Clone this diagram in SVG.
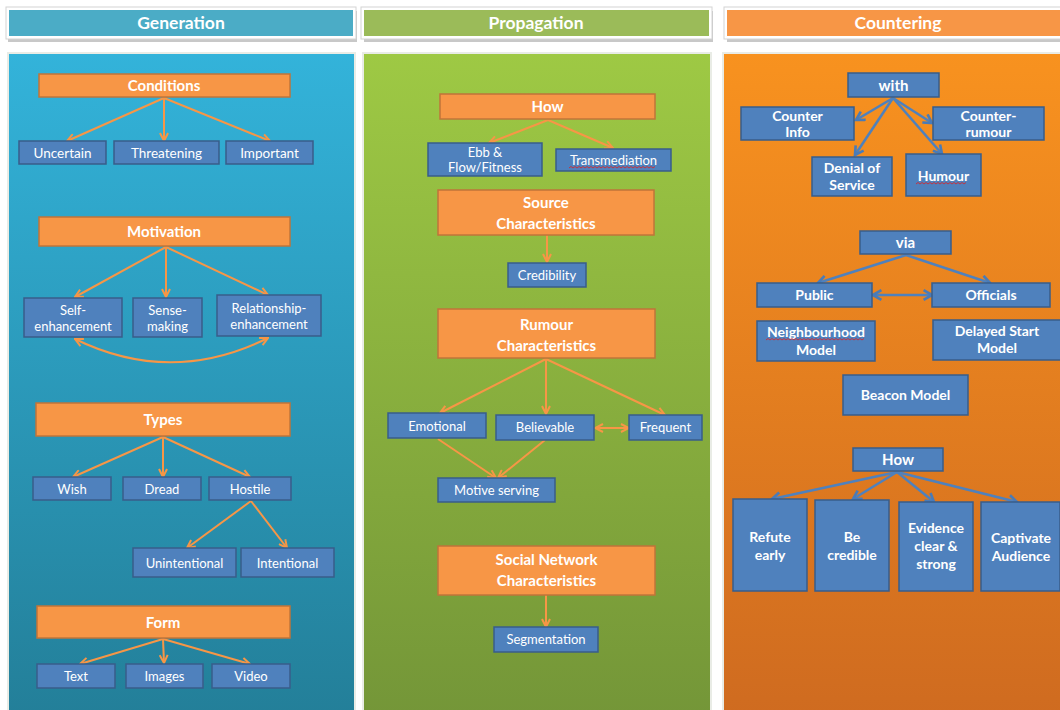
<svg xmlns="http://www.w3.org/2000/svg" width="1060" height="710" viewBox="0 0 1060 710">
<defs>
<linearGradient id="gBlue" x1="0" y1="0" x2="0" y2="1"><stop offset="0" stop-color="#33B3DA"/><stop offset="1" stop-color="#237F99"/></linearGradient>
<linearGradient id="gGreen" x1="0" y1="0" x2="0" y2="1"><stop offset="0" stop-color="#9EC944"/><stop offset="1" stop-color="#749638"/></linearGradient>
<linearGradient id="gOrange" x1="0" y1="0" x2="0" y2="1"><stop offset="0" stop-color="#F8921F"/><stop offset="1" stop-color="#CF6B20"/></linearGradient>
<marker id="ao" viewBox="0 0 10 10" refX="9" refY="5" markerWidth="10" markerHeight="10" markerUnits="userSpaceOnUse" orient="auto-start-reverse"><path d="M1,1 L9,5 L1,9" fill="none" stroke="#F79646" stroke-width="2"/></marker>
<marker id="ab" viewBox="0 0 10 10" refX="8" refY="5" markerWidth="12" markerHeight="12" markerUnits="userSpaceOnUse" orient="auto-start-reverse"><path d="M1,1 L8,5 L1,9" fill="none" stroke="#4A7BB7" stroke-width="2.2"/></marker>
<style>
.hdrf{fill:#fff;stroke:#d4d4d4;stroke-width:1}
.hdr{font-family:Lato,"Open Sans",sans-serif;font-weight:bold;font-size:17.5px;fill:#fff;text-anchor:middle}
.panel{stroke:#e9ece6;stroke-width:2}
.on{fill:#F79646;stroke:#C0743A;stroke-width:1.5}
.bn{fill:#4F81BD;stroke:#385D8A;stroke-width:1.5}
.tb{font-family:Lato,"Open Sans",sans-serif;font-weight:bold;font-size:15px;fill:#fff;text-anchor:middle}
.tr{font-family:Lato,"Open Sans",sans-serif;font-size:13.5px;fill:#fff;text-anchor:middle}
.ts{font-family:Lato,"Open Sans",sans-serif;font-size:13px;fill:#fff;text-anchor:middle}
.tc{font-family:Lato,"Open Sans",sans-serif;font-weight:bold;font-size:14px;fill:#fff;text-anchor:middle}
.co{fill:none;stroke:#F79646;stroke-width:2;marker-end:url(#ao)}
.cob{fill:none;stroke:#F79646;stroke-width:2;marker-end:url(#ao);marker-start:url(#ao)}
.cb{fill:none;stroke:#4F81BD;stroke-width:2.5;marker-end:url(#ab)}
.cbb{fill:none;stroke:#4F81BD;stroke-width:2.5;marker-end:url(#ab);marker-start:url(#ab)}
.sq{fill:none;stroke:#E02020;stroke-width:0.8}
</style>
</defs>
<rect width="1060" height="710" fill="#fff"/>

<!-- headers -->
<g id="hdr-generation">
<rect x="7" y="9" width="349" height="31" fill="#c8c8c8" transform="translate(1,2)"/>
<rect x="6" y="7" width="350" height="32" class="hdrf"/>
<rect x="9" y="10" width="344" height="26" fill="#4BACC6"/>
<text x="181" y="29" class="hdr">Generation</text>
</g>
<g id="hdr-propagation">
<rect x="363" y="9" width="349" height="31" fill="#c8c8c8" transform="translate(1,2)"/>
<rect x="361" y="7" width="351" height="32" class="hdrf"/>
<rect x="364" y="10" width="345" height="26" fill="#9BBB59"/>
<text x="536" y="29" class="hdr">Propagation</text>
</g>
<g id="hdr-countering">
<rect x="726" y="9" width="340" height="31" fill="#c8c8c8" transform="translate(1,2)"/>
<rect x="724" y="7" width="340" height="32" class="hdrf"/>
<rect x="727" y="10" width="336" height="26" fill="#F79646"/>
<text x="898" y="29" class="hdr">Countering</text>
</g>

<!-- panels -->
<rect x="8" y="53" width="347" height="662" fill="url(#gBlue)" class="panel"/>
<rect x="363" y="53" width="348" height="662" fill="url(#gGreen)" class="panel"/>
<rect x="723" y="53" width="345" height="662" fill="url(#gOrange)" class="panel"/>

<!-- connectors -->
<g id="connectors">
<path class="co" d="M164,98 L67,141"/>
<path class="co" d="M164,98 L164,141"/>
<path class="co" d="M164,98 L270,141"/>
<path class="co" d="M166,247 L75,297"/>
<path class="co" d="M166,247 L166,297"/>
<path class="co" d="M166,247 L268,295"/>
<path class="cob" d="M75,339 Q171,386 268,338"/>
<path class="co" d="M163,437 L73,477"/>
<path class="co" d="M163,437 L163,477"/>
<path class="co" d="M163,437 L250,477"/>
<path class="co" d="M251,501 L187,548"/>
<path class="co" d="M251,501 L287,548"/>
<path class="co" d="M163,639 L80,664"/>
<path class="co" d="M163,639 L164,663"/>
<path class="co" d="M163,639 L250,664"/>

<path class="co" d="M548,120 L489,143"/>
<path class="co" d="M548,120 L613,148"/>
<path class="co" d="M547,235 L547,262"/>
<path class="co" d="M546,359 L440,413"/>
<path class="co" d="M546,359 L546,414"/>
<path class="co" d="M546,359 L665,415"/>
<path class="cob" d="M595,428 L629,428"/>
<path class="co" d="M438,439 L496,478"/>
<path class="co" d="M545,440 L498,478"/>
<path class="co" d="M546,595 L546,627"/>

<path class="cb" d="M893,98 L856,120"/>
<path class="cb" d="M893,98 L932,123"/>
<path class="cb" d="M893,98 L855,155"/>
<path class="cb" d="M893,98 L942,154"/>
<path class="cb" d="M906,255 L818,283"/>
<path class="cb" d="M906,255 L990,283"/>
<path class="cbb" d="M873,295 L932,295"/>
<path class="cb" d="M897,472 L772,499"/>
<path class="cb" d="M897,472 L853,499"/>
<path class="cb" d="M897,472 L934,502"/>
<path class="cb" d="M897,472 L1017,502"/>
</g>

<!-- Generation nodes -->
<g id="n-conditions"><rect x="39" y="74" width="251" height="23" class="on"/><text x="164" y="91" class="tb">Conditions</text></g>
<g id="n-uncertain"><rect x="19" y="141" width="87" height="23" class="bn"/><text x="62.5" y="157.5" class="tr">Uncertain</text></g>
<g id="n-threatening"><rect x="114" y="141" width="105" height="23" class="bn"/><text x="166.5" y="157.5" class="tr">Threatening</text></g>
<g id="n-important"><rect x="226" y="141" width="87" height="23" class="bn"/><text x="269.5" y="157.5" class="tr">Important</text></g>

<g id="n-motivation"><rect x="39" y="217" width="251" height="29" class="on"/><text x="164" y="237" class="tb">Motivation</text></g>
<g id="n-self"><rect x="24" y="298" width="98" height="39" class="bn"/><text x="73" y="315" class="ts">Self-</text><text x="73" y="331" class="ts">enhancement</text></g>
<g id="n-sense"><rect x="133" y="298" width="69" height="39" class="bn"/><text x="167.5" y="315" class="ts">Sense-</text><text x="167.5" y="331" class="ts">making</text></g>
<g id="n-relationship"><rect x="217" y="295" width="104" height="41" class="bn"/><text x="269" y="313" class="ts">Relationship-</text><text x="269" y="329" class="ts">enhancement</text></g>

<g id="n-types"><rect x="36" y="403" width="254" height="33" class="on"/><text x="163" y="425" class="tb">Types</text></g>
<g id="n-wish"><rect x="33" y="477" width="78" height="23" class="bn"/><text x="72" y="493.5" class="ts">Wish</text></g>
<g id="n-dread"><rect x="123" y="477" width="78" height="23" class="bn"/><text x="162" y="493.5" class="ts">Dread</text></g>
<g id="n-hostile"><rect x="209" y="477" width="82" height="23" class="bn"/><text x="250" y="493.5" class="ts">Hostile</text></g>
<g id="n-unintentional"><rect x="133" y="548" width="103" height="29" class="bn"/><text x="184.5" y="567.5" class="ts">Unintentional</text></g>
<g id="n-intentional"><rect x="241" y="548" width="93" height="29" class="bn"/><text x="287.5" y="567.5" class="ts">Intentional</text></g>

<g id="n-form"><rect x="37" y="606" width="253" height="32" class="on"/><text x="163" y="627.5" class="tb">Form</text></g>
<g id="n-text"><rect x="37" y="664" width="78" height="24" class="bn"/><text x="76" y="681" class="ts">Text</text></g>
<g id="n-images"><rect x="126" y="664" width="77" height="24" class="bn"/><text x="164.5" y="681" class="ts">Images</text></g>
<g id="n-video"><rect x="212" y="664" width="78" height="24" class="bn"/><text x="251" y="681" class="ts">Video</text></g>

<!-- Propagation nodes -->
<g id="n-how-p"><rect x="440" y="94" width="215" height="25" class="on"/><text x="547.5" y="112" class="tb">How</text></g>
<g id="n-ebb"><rect x="428" y="143" width="114" height="33" class="bn"/><text x="485" y="157" class="ts">Ebb &amp;</text><text x="485" y="172" class="ts">Flow/Fitness</text></g>
<g id="n-transmediation"><rect x="556" y="149" width="115" height="22" class="bn"/><text x="613.5" y="165" class="ts">Transmediation</text><path class="sq" d="M569,168 l2,-1.5 l2,1.5 l2,-1.5 l2,1.5 l2,-1.5 l2,1.5 l2,-1.5 l2,1.5 l2,-1.5 l2,1.5 l2,-1.5 l2,1.5 l2,-1.5 l2,1.5 l2,-1.5 l2,1.5 l2,-1.5 l2,1.5 l2,-1.5 l2,1.5 l2,-1.5 l2,1.5 l2,-1.5 l2,1.5 l2,-1.5 l2,1.5 l2,-1.5 l2,1.5 l2,-1.5 l2,1.5 l2,-1.5 l2,1.5 l2,-1.5 l2,1.5 l2,-1.5 l2,1.5 l2,-1.5 l2,1.5 l2,-1.5 l2,1.5 l2,-1.5 l2,1.5 l2,-1.5"/></g>
<g id="n-source"><rect x="438" y="190" width="216" height="45" class="on"/><text x="546" y="208" class="tb" font-size="14">Source</text><text x="546" y="229" class="tb" font-size="14">Characteristics</text></g>
<g id="n-credibility"><rect x="508" y="263" width="78" height="24" class="bn"/><text x="547" y="280" class="ts">Credibility</text></g>
<g id="n-rumour"><rect x="438" y="309" width="217" height="49" class="on"/><text x="546.5" y="330" class="tb" font-size="14">Rumour</text><text x="546.5" y="351" class="tb" font-size="14">Characteristics</text></g>
<g id="n-emotional"><rect x="388" y="413" width="98" height="25" class="bn"/><text x="437" y="431" class="ts">Emotional</text></g>
<g id="n-believable"><rect x="496" y="415" width="98" height="25" class="bn"/><text x="545" y="432" class="ts">Believable</text></g>
<g id="n-frequent"><rect x="629" y="415" width="73" height="25" class="bn"/><text x="665.5" y="432" class="ts">Frequent</text></g>
<g id="n-motive"><rect x="438" y="478" width="117" height="24" class="bn"/><text x="496.5" y="495" class="ts">Motive serving</text></g>
<g id="n-social"><rect x="438" y="546" width="217" height="49" class="on"/><text x="546.5" y="565" class="tb" font-size="14">Social Network</text><text x="546.5" y="586" class="tb" font-size="14">Characteristics</text></g>
<g id="n-segmentation"><rect x="494" y="627" width="104" height="25" class="bn"/><text x="546" y="644" class="ts">Segmentation</text></g>

<!-- Countering nodes -->
<g id="n-with"><rect x="848" y="73" width="91" height="24" class="bn"/><text x="893.5" y="91" class="tb">with</text></g>
<g id="n-counterinfo"><rect x="741" y="107" width="113" height="33" class="bn"/><text x="797.5" y="121" class="tc">Counter</text><text x="797.5" y="137" class="tc">Info</text></g>
<g id="n-counterrumour"><rect x="933" y="107" width="111" height="33" class="bn"/><text x="988.5" y="121" class="tc">Counter-</text><text x="988.5" y="137" class="tc">rumour</text></g>
<g id="n-denial"><rect x="812" y="157" width="80" height="39" class="bn"/><text x="852" y="173" class="tc">Denial of</text><text x="852" y="190" class="tc">Service</text></g>
<g id="n-humour"><rect x="906" y="154" width="75" height="42" class="bn"/><text x="943.5" y="181" class="tc">Humour</text><path class="sq" d="M916,184 l2,-1.5 l2,1.5 l2,-1.5 l2,1.5 l2,-1.5 l2,1.5 l2,-1.5 l2,1.5 l2,-1.5 l2,1.5 l2,-1.5 l2,1.5 l2,-1.5 l2,1.5 l2,-1.5 l2,1.5 l2,-1.5 l2,1.5 l2,-1.5 l2,1.5 l2,-1.5 l2,1.5 l2,-1.5 l2,1.5 l2,-1.5"/></g>
<g id="n-via"><rect x="860" y="231" width="91" height="23" class="bn"/><text x="905.5" y="248" class="tb">via</text></g>
<g id="n-public"><rect x="757" y="283" width="115" height="24" class="bn"/><text x="814.5" y="300" class="tc">Public</text></g>
<g id="n-officials"><rect x="932" y="283" width="118" height="24" class="bn"/><text x="991" y="300" class="tc">Officials</text></g>
<g id="n-neighbourhood"><rect x="757" y="321" width="118" height="40" class="bn"/><text x="816" y="337" class="tc">Neighbourhood</text><path class="sq" d="M766,340 l2,-1.5 l2,1.5 l2,-1.5 l2,1.5 l2,-1.5 l2,1.5 l2,-1.5 l2,1.5 l2,-1.5 l2,1.5 l2,-1.5 l2,1.5 l2,-1.5 l2,1.5 l2,-1.5 l2,1.5 l2,-1.5 l2,1.5 l2,-1.5 l2,1.5 l2,-1.5 l2,1.5 l2,-1.5 l2,1.5 l2,-1.5 l2,1.5 l2,-1.5 l2,1.5 l2,-1.5 l2,1.5 l2,-1.5 l2,1.5 l2,-1.5 l2,1.5 l2,-1.5 l2,1.5 l2,-1.5 l2,1.5 l2,-1.5 l2,1.5 l2,-1.5 l2,1.5 l2,-1.5 l2,1.5 l2,-1.5 l2,1.5 l2,-1.5 l2,1.5 l2,-1.5"/><text x="816" y="355" class="tc">Model</text></g>
<g id="n-delayed"><rect x="933" y="320" width="130" height="40" class="bn"/><text x="997" y="336" class="tc">Delayed Start</text><text x="997" y="353" class="tc">Model</text></g>
<g id="n-beacon"><rect x="843" y="375" width="125" height="40" class="bn"/><text x="905.5" y="400" class="tc">Beacon Model</text></g>
<g id="n-how-c"><rect x="853" y="448" width="90" height="23" class="bn"/><text x="898" y="465" class="tb">How</text></g>
<g id="n-refute"><rect x="733" y="499" width="74" height="92" class="bn"/><text x="770" y="542" class="tc">Refute</text><text x="770" y="560" class="tc">early</text></g>
<g id="n-becredible"><rect x="815" y="500" width="74" height="91" class="bn"/><text x="852" y="542" class="tc">Be</text><text x="852" y="560" class="tc">credible</text></g>
<g id="n-evidence"><rect x="899" y="502" width="74" height="89" class="bn"/><text x="936" y="533" class="tc">Evidence</text><text x="936" y="551" class="tc">clear &amp;</text><text x="936" y="569" class="tc">strong</text></g>
<g id="n-captivate"><rect x="981" y="502" width="79" height="89" class="bn"/><text x="1021" y="543" class="tc">Captivate</text><text x="1021" y="561" class="tc">Audience</text></g>
</svg>
